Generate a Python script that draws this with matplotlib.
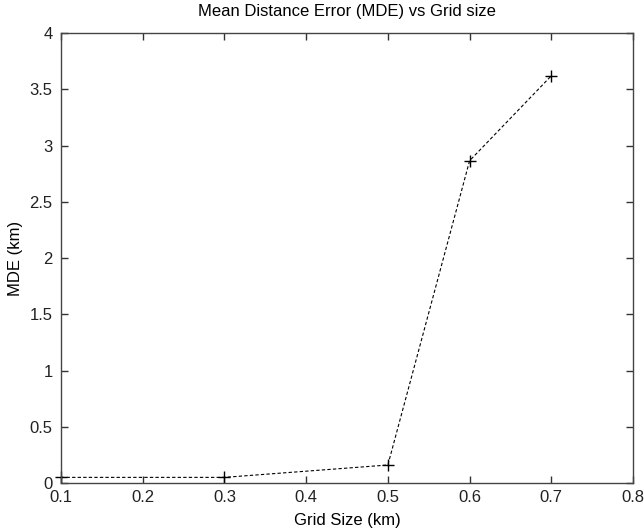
import matplotlib
matplotlib.use("Agg")
import matplotlib.pyplot as plt

## Data
grid_size = [0.1, 0.3, 0.5, 0.6, 0.7]
mde = [0.05, 0.05, 0.16, 2.865, 3.62]

xticks = [0.1, 0.2, 0.3, 0.4, 0.5, 0.6, 0.7, 0.8]
yticks = [0, 0.5, 1, 1.5, 2, 2.5, 3, 3.5, 4]

plt.rcParams['font.family'] = ['Liberation Sans', 'DejaVu Sans']
plt.rcParams['font.size'] = 12

fig = plt.figure(figsize=(6.44, 5.31), dpi=100)
ax = fig.add_axes([0.0947, 0.0904, 0.8883, 0.8474])

ax.plot(grid_size, mde, '--+', color='black', linewidth=0.8,
        markersize=9, markeredgewidth=1.0, dashes=(3, 2), clip_on=False)

ax.set_xlim(0.1, 0.8)
ax.set_ylim(0, 4)
ax.set_xticks(xticks)
ax.set_xticklabels([f'{t:g}' for t in xticks])
ax.set_yticks(yticks)
ax.set_yticklabels([f'{t:g}' for t in yticks])
ax.tick_params(direction='in', length=5, top=True, right=True,
               colors='#333333', labelcolor='#222222', width=1)
ax.tick_params(axis='x', pad=5)
ax.tick_params(axis='y', pad=6)
for s in ax.spines.values():
    s.set_color('#444444')
    s.set_linewidth(1)

ax.set_title('Mean Distance Error (MDE) vs Grid size', fontsize=12, pad=12)
ax.set_xlabel('Grid Size (km)', labelpad=6)
ax.set_ylabel('MDE (km)', labelpad=5)

fig.savefig('out.png', dpi=100)
